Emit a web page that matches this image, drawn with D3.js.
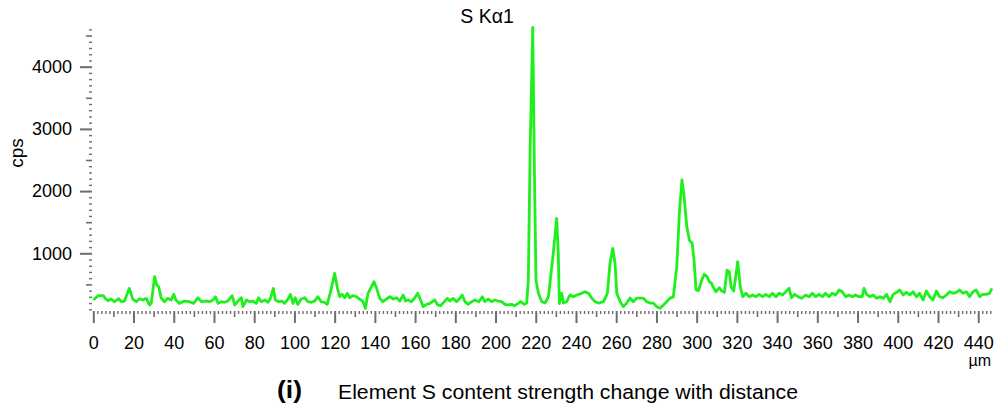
<!DOCTYPE html>
<html>
<head>
<meta charset="utf-8">
<script src="https://cdn.jsdelivr.net/npm/d3@7"></script>
<style>
  body { margin: 0; background: #fff; }
  text { font-family: "Liberation Sans", Arial, Helvetica, sans-serif; fill: #000; }
</style>
</head>
<body>
<svg id="chart" width="997" height="408"></svg>
<script>
// Line scan of S Kα1 intensity (cps) along the measured path (µm)
const distance = [
  0, 2.5, 5, 6, 7.3, 8.8, 10.5, 12.6, 14, 15.5, 17.9, 19.7, 21.4, 23, 24.7, 26.3, 28, 28.8,
  30.5, 31.6, 32.5, 33.8, 35.4, 37, 38.7, 40, 41.1, 42.8, 45.3, 47.8, 49.9, 52, 53.7, 56.2,
  57.8, 59.5, 60.8, 62, 63.6, 65.3, 66.9, 69, 70.3, 72, 73.6, 74.4, 76.1, 77.7, 79.4, 81,
  82.2, 83.5, 85.2, 86.9, 88.2, 89.5, 90.5, 92.2, 93.8, 95.1, 96.8, 98, 99.3, 100.4, 101.7,
  103.4, 105.1, 106.7, 108.4, 110, 111.7, 113.3, 115, 116.3, 118, 120, 121.4, 122.5, 123.7,
  125, 126.3, 127.5, 129.1, 130.8, 132.4, 134.1, 135.3, 136.6, 138.3, 139.6, 140.9, 142.4,
  144, 145.7, 147.5, 149.1, 150.8, 152.4, 154.1, 155.2, 156.6, 158.2, 159.9, 161.3, 162.4,
  164, 165.7, 167.4, 169.8, 171.2, 172.8, 174.5, 176.1, 177.3, 178.9, 180.6, 182.3, 183.4,
  184.8, 186.4, 188.1, 189.7, 191.7, 193.4, 194.7, 196.4, 198, 199.7, 201.3, 203, 204.7,
  206.3, 208, 209.6, 211.3, 212.6, 214.3, 215.5, 216.3, 217.2, 218.5, 219.3, 220.1, 221.3,
  223, 224.6, 226.3, 228.7, 230.4, 231.2, 231.7, 232.9, 233.7, 235.4, 237, 238.7, 240.4,
  242.9, 244.5, 246.2, 247.8, 249.5, 251.2, 253.7, 255.6, 256.9, 258.3, 259.4, 260.3, 262,
  263.6, 265.2, 266.9, 268.5, 270.2, 271.8, 273.5, 275.2, 276.8, 278.5, 280.1, 281.8, 283.5,
  285.1, 286.8, 288.4, 290.1, 291.4, 292.7, 293.7, 295.1, 296.4, 297.8, 298.7, 299.7, 300.9,
  302.5, 303.8, 305.2, 306.3, 307.4, 308.1, 309.6, 311.3, 312.4, 313.8, 315.1, 316.2, 317.1,
  318.4, 319.3, 320.4, 321.7, 322.9, 324.5, 326.2, 327.8, 329.5, 331.1, 332.8, 334.4, 336.1,
  337.7, 339.4, 341, 342.7, 344.3, 346, 347.1, 348.8, 350.4, 352.1, 354.2, 355.9, 357.5,
  359.2, 360.8, 362.5, 364.1, 365.8, 367.4, 369.1, 370.8, 372.4, 374.1, 375.7, 377.4, 379,
  380.7, 382.3, 383.2, 384.5, 386.1, 387.8, 389.4, 391.1, 392.8, 394.4, 396.1, 397.7, 399.4,
  401, 402.7, 404.3, 406, 407.6, 409.3, 410.9, 412.6, 414.2, 415.9, 417.5, 419.2, 420.8,
  422.5, 424.1, 425.8, 427.5, 429.1, 430.8, 432.4, 434.1, 435.7, 437.4, 439, 440.7, 442.3,
  444, 445.6, 446.8
];
const cps = [
  250, 320, 320, 270, 238, 265, 222, 270, 222, 233, 437, 259, 222, 270, 249, 276, 169, 195,
  624, 490, 463, 276, 222, 276, 249, 340, 249, 195, 233, 222, 195, 286, 222, 233,
  222, 249, 302, 195, 222, 212, 233, 319, 169, 233, 286, 142, 249, 222, 233, 195,
  286, 222, 249, 212, 286, 437, 249, 222, 233, 195, 265, 340, 195, 286, 179,
  265, 286, 222, 212, 233, 302, 222, 212, 179, 383, 678, 437, 302, 340,
  286, 357, 286, 319, 302, 265, 222, 115, 357, 463, 543, 437, 276,
  222, 265, 302, 265, 286, 233, 330, 233, 249, 222, 286, 357, 276,
  142, 179, 195, 249, 169, 158, 222, 276, 233, 276, 222, 276, 330,
  222, 179, 222, 249, 222, 302, 222, 265, 222, 249, 233, 222, 179,
  169, 179, 158, 195, 222, 179, 200, 570, 2660, 4630, 2390, 570, 357,
  222, 200, 302, 1000, 1560, 1000, 190, 357, 200, 222, 330, 300, 330,
  357, 383, 357, 280, 222, 200, 222, 357, 840, 1080, 840, 357, 222,
  142, 200, 280, 222, 280, 280, 280, 222, 200, 200, 142, 115, 169,
  222, 280, 300, 785, 1640, 2180, 1930, 1430, 1210, 1160, 890, 410, 400,
  570, 662, 624, 543, 520, 463, 383, 447, 394, 373, 731, 705, 463,
  394, 600, 865, 463, 302, 357, 302, 330, 302, 340, 302, 340, 302,
  357, 302, 357, 330, 383, 437, 286, 340, 302, 276, 330, 302, 357,
  302, 340, 302, 357, 302, 357, 330, 410, 383, 302, 330, 302, 330,
  302, 302, 437, 340, 302, 330, 276, 302, 276, 340, 222, 340, 373,
  410, 330, 373, 330, 383, 302, 357, 249, 394, 302, 249, 394, 302,
  286, 330, 383, 357, 373, 410, 357, 383, 302, 383, 410, 302, 340,
  340, 357, 437
];
const xTickLabels = d3.range(0, 441, 20);
const yTickLabels = [1000, 2000, 3000, 4000];
const chartTitle = "S K\u03B11";
const yAxisTitle = "cps";
const xUnit = "\u00B5m";
const panelLabel = "(i)";
const caption = "Element S content strength change with distance";

const svg = d3.select("#chart");

const x = d3.scaleLinear().domain([0, 446.7]).range([93.3, 991.7]);
const y = d3.scaleLinear().domain([50, 4620]).range([312.4, 28.1]);

const axisY0 = 311;   // baseline row of the distance axis
const axisX0 = 92;    // column of the intensity axis
const tickColor = "#6e6e6e";
const labelFont = "Liberation Sans, Arial, sans-serif";

// distance axis: minor every 2, medium every 10, major (labelled) every 20
const xMinor = d3.range(0, 447, 2).filter(v => v % 10 !== 0);
const xMedium = d3.range(10, 447, 20);

function styleTicks(g, width) {
  g.select(".domain").remove();
  g.selectAll(".tick line").attr("stroke", tickColor).attr("stroke-width", width);
}

svg.append("g").attr("transform", `translate(0,${axisY0})`)
  .call(d3.axisBottom(x).tickValues(xMinor).tickSize(3).tickFormat(""))
  .call(g => styleTicks(g, 1.4));
svg.append("g").attr("transform", `translate(0,${axisY0})`)
  .call(d3.axisBottom(x).tickValues(xMedium).tickSize(6).tickFormat(""))
  .call(g => styleTicks(g, 1.6));
svg.append("g").attr("transform", `translate(0,${axisY0})`)
  .call(d3.axisBottom(x).tickValues(xTickLabels).tickSize(12).tickPadding(13).tickFormat(d3.format("d")))
  .call(g => styleTicks(g, 2))
  .call(g => g.selectAll(".tick text").attr("font-size", 18).attr("font-family", labelFont).attr("fill", "#000"));

// intensity axis: minor every 100, medium every 500, major every 1000
const yMinor = d3.range(100, 4601, 100).filter(v => v % 500 !== 0);
const yMedium = d3.range(500, 4601, 1000);

svg.append("g").attr("transform", `translate(${axisX0},0)`)
  .call(d3.axisLeft(y).tickValues(yMinor).tickSize(3).tickFormat(""))
  .call(g => styleTicks(g, 1.4));
svg.append("g").attr("transform", `translate(${axisX0},0)`)
  .call(d3.axisLeft(y).tickValues(yMedium).tickSize(6).tickFormat(""))
  .call(g => styleTicks(g, 1.6));
svg.append("g").attr("transform", `translate(${axisX0},0)`)
  .call(d3.axisLeft(y).tickValues(yTickLabels).tickSize(12).tickPadding(8).tickFormat(d3.format("d")))
  .call(g => styleTicks(g, 2))
  .call(g => g.selectAll(".tick text").attr("font-size", 18).attr("font-family", labelFont).attr("fill", "#000"));

// intensity trace
const points = distance.map((d, i) => [d, cps[i]]);
const line = d3.line().x(d => x(d[0])).y(d => y(d[1]));
svg.append("path")
  .datum(points)
  .attr("fill", "none")
  .attr("stroke", "#1ef01e")
  .attr("stroke-width", 2.8)
  .attr("stroke-linejoin", "round")
  .attr("d", line);

// titles and captions
svg.append("text").attr("x", 487).attr("y", 23).attr("text-anchor", "middle")
  .attr("font-size", 19.5).text(chartTitle);

svg.append("text").attr("transform", "translate(23,153) rotate(-90)")
  .attr("text-anchor", "middle").attr("font-size", 19).text(yAxisTitle);

svg.append("text").attr("x", 991).attr("y", 366).attr("text-anchor", "end")
  .attr("font-size", 16).text(xUnit);

svg.append("text").attr("x", 277).attr("y", 398).attr("font-size", 23)
  .attr("font-weight", "bold").attr("textLength", 25).attr("lengthAdjust", "spacingAndGlyphs")
  .text(panelLabel);

svg.append("text").attr("x", 338).attr("y", 399).attr("font-size", 20)
  .attr("textLength", 460).attr("lengthAdjust", "spacingAndGlyphs").text(caption);
</script>
</body>
</html>
